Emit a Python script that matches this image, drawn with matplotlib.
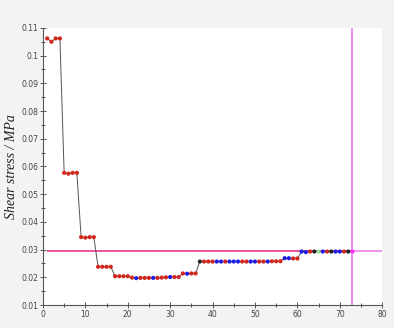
import matplotlib
matplotlib.use("Agg")
import matplotlib.pyplot as plt
import matplotlib.ticker as ticker
import numpy as np

# step number vs. measured shear stress (MPa)
steps = list(range(1, 74))
stress = [
	0.1062, 0.1050, 0.1062, 0.1062,
	0.0577, 0.0574, 0.0577, 0.0577,
	0.0345, 0.0343, 0.0345, 0.0345,
	0.0238, 0.0238, 0.0238, 0.0238,
	0.0204, 0.0204, 0.0204, 0.0204,
	0.0199, 0.0197, 0.0198, 0.0198, 0.0198, 0.0198, 0.0198, 0.0199, 0.0200, 0.0201, 0.0201, 0.0201,
	0.0214, 0.0213, 0.0214, 0.0214,
	0.0257, 0.0257, 0.0257, 0.0257, 0.0257, 0.0257, 0.0257, 0.0257, 0.0257, 0.0257,
	0.0257, 0.0257, 0.0257, 0.0257, 0.0257, 0.0257, 0.0257, 0.0258, 0.0258, 0.0258,
	0.0269, 0.0269, 0.0268, 0.0268,
	0.0293, 0.0291, 0.0293, 0.0293, 0.0293, 0.0293, 0.0293, 0.0293, 0.0293, 0.0293, 0.0293, 0.0293, 0.0293,
]
# point class per step: r=red, b=blue, k=black, g=green, m=magenta
point_class = (
	"rrrrrrrrrrrrrrrrrrrrr" "brrrbrrrbrrrbrr"
	"krrrbbrbbbrrbbrrbrrr" "bbrr"
	"bbrkgbrkbbrkm"
)
class_colors = {"r": "#d1261c", "b": "#1d1de6", "k": "#222222", "g": "#90e090", "m": "#ff30ff"}

limit_stress = 0.0294
limit_step = 73

fig = plt.figure(figsize=(3.94, 3.28), dpi=100, facecolor="#f3f3f3")
ax = fig.add_axes([0.109, 0.070, 0.861, 0.845], facecolor="white")

ax.plot(steps, stress, "-", color="#555555", lw=0.7, zorder=2)
colors = [class_colors[c] for c in point_class]
ax.scatter(steps, stress, s=9, c=colors, edgecolors="none", zorder=3)

ax.hlines(limit_stress, 1, limit_step, color="#e6358c", lw=1.2, zorder=1)
ax.hlines(limit_stress, limit_step, 80, color="#f080f0", lw=1.2, zorder=1)
ax.axvline(limit_step, color="#e98ee9", lw=1.4, zorder=1)

ax.set_xlim(0, 80)
ax.set_ylim(0.01, 0.11)
ax.xaxis.set_major_locator(ticker.MultipleLocator(10))
ax.xaxis.set_minor_locator(ticker.MultipleLocator(5))
ax.yaxis.set_major_locator(ticker.MultipleLocator(0.01))
ax.yaxis.set_minor_locator(ticker.MultipleLocator(0.005))
ax.yaxis.set_major_formatter(ticker.FuncFormatter(lambda v, p: ("%.2f" % v).rstrip("0")))

for s in ("top", "right"):
	ax.spines[s].set_visible(False)
for s in ("left", "bottom"):
	ax.spines[s].set_color("#555555")
	ax.spines[s].set_linewidth(0.8)

ax.tick_params(which="both", direction="inout", colors="#555555", labelcolor="#444444", labelsize=5.5, width=0.7, pad=1.5)
ax.tick_params(which="major", length=4)
ax.tick_params(which="minor", length=2.5)

ax.set_ylabel("Shear stress / MPa", fontsize=10, style="italic", family=["Liberation Serif", "DejaVu Serif"], color="#222222")
ax.yaxis.set_label_coords(-0.074, 0.5)

fig.savefig("out.png", dpi=100, facecolor=fig.get_facecolor())
